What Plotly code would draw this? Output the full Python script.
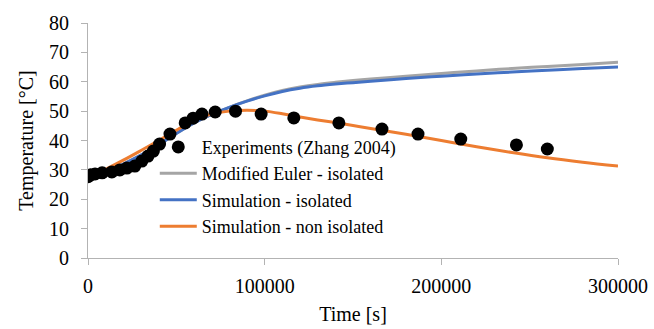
import plotly.graph_objects as go

# Measured temperatures (Zhang 2004)
exp_time = [0, 1500, 4000, 8000, 13500, 18000, 22000, 26500, 30500, 34000, 37000,
            40500, 46400, 55000, 59500, 64500, 72000, 83500, 98000, 116500,
            142000, 166400, 186800, 211000, 242500, 260000]
exp_temp = [27.7, 28.3, 28.6, 29.0, 29.3, 30.0, 30.6, 31.3, 33.0, 34.7, 36.4,
            38.8, 42.2, 46.0, 47.6, 49.0, 49.7, 50.0, 49.0, 47.7,
            46.0, 43.9, 42.2, 40.5, 38.5, 37.1]

# Model time grid [s]
sim_time = [0, 5000, 10000, 20000, 30000, 40000, 50000, 60000, 70000, 80000, 90000,
            100000, 110000, 120000, 130000, 140000, 150000, 160000, 180000, 200000,
            220000, 240000, 260000, 280000, 300000]

euler_isolated = [28.0, 28.5, 29.5, 32.0, 35.0, 38.6, 42.4, 46.0, 48.9, 51.3, 53.5,
                  55.4, 57.0, 58.2, 59.1, 59.8, 60.4, 60.9, 61.9, 62.8, 63.7,
                  64.5, 65.2, 65.9, 66.6]
sim_isolated = [28.0, 28.5, 29.5, 32.0, 35.0, 38.6, 42.4, 46.0, 48.9, 51.3, 53.4,
                55.2, 56.7, 57.8, 58.6, 59.2, 59.7, 60.2, 61.1, 61.9, 62.6,
                63.3, 63.9, 64.5, 65.0]
sim_non_isolated = [28.0, 28.8, 30.2, 33.3, 36.6, 40.0, 43.5, 47.0, 49.0, 50.0, 50.3,
                    50.0, 49.1, 48.0, 47.0, 46.1, 45.1, 44.1, 42.1, 40.0, 37.9,
                    35.9, 34.1, 32.6, 31.3]

FONT = "Liberation Serif"
AXIS_GREY = "#b3b3b3"


def serif(size):
    return dict(family=FONT, size=size, color="black")


fig = go.Figure()
fig.add_trace(go.Scatter(x=sim_time, y=euler_isolated, mode="lines",
                         name="Modified Euler - isolated", legendrank=2,
                         line=dict(color="#a5a5a5", width=3, shape="spline")))
fig.add_trace(go.Scatter(x=sim_time, y=sim_isolated, mode="lines",
                         name="Simulation - isolated", legendrank=3,
                         line=dict(color="#4472c4", width=3, shape="spline")))
fig.add_trace(go.Scatter(x=sim_time, y=sim_non_isolated, mode="lines",
                         name="Simulation - non isolated", legendrank=4,
                         line=dict(color="#ed7d31", width=3, shape="spline")))
fig.add_trace(go.Scatter(x=exp_time, y=exp_temp, mode="markers",
                         name="Experiments (Zhang 2004)", legendrank=1,
                         marker=dict(color="black", size=13)))

fig.update_layout(
    template="simple_white",
    width=654, height=329,
    margin=dict(l=88, r=36, t=23, b=71),
    paper_bgcolor="white", plot_bgcolor="white",
    font=serif(20),
    showlegend=True,
    legend=dict(x=0.126, y=0.55, xanchor="left", yanchor="top",
                bgcolor="rgba(0,0,0,0)", font=serif(18),
                tracegroupgap=0, itemwidth=37),
    xaxis=dict(range=[0, 300000], tickvals=[0, 100000, 200000, 300000],
               ticktext=["0", "100000", "200000", "300000"], automargin=False,
               showgrid=False, zeroline=False, showline=True, linecolor=AXIS_GREY,
               linewidth=1, ticks="outside", tickcolor=AXIS_GREY, ticklen=6,
               tickfont=serif(20), ticklabelstandoff=4,
               title=dict(text="Time [s]", font=serif(20), standoff=10)),
    yaxis=dict(range=[0, 80], dtick=10, showgrid=False, zeroline=False,
               showline=True, linecolor=AXIS_GREY, linewidth=1, ticks="outside",
               tickcolor=AXIS_GREY, ticklen=6, tickfont=serif(20),
               ticklabelstandoff=8, automargin=False,
               title=dict(text="Temperature [°C]", font=serif(20), standoff=10)),
)

fig.write_html("out.html")
